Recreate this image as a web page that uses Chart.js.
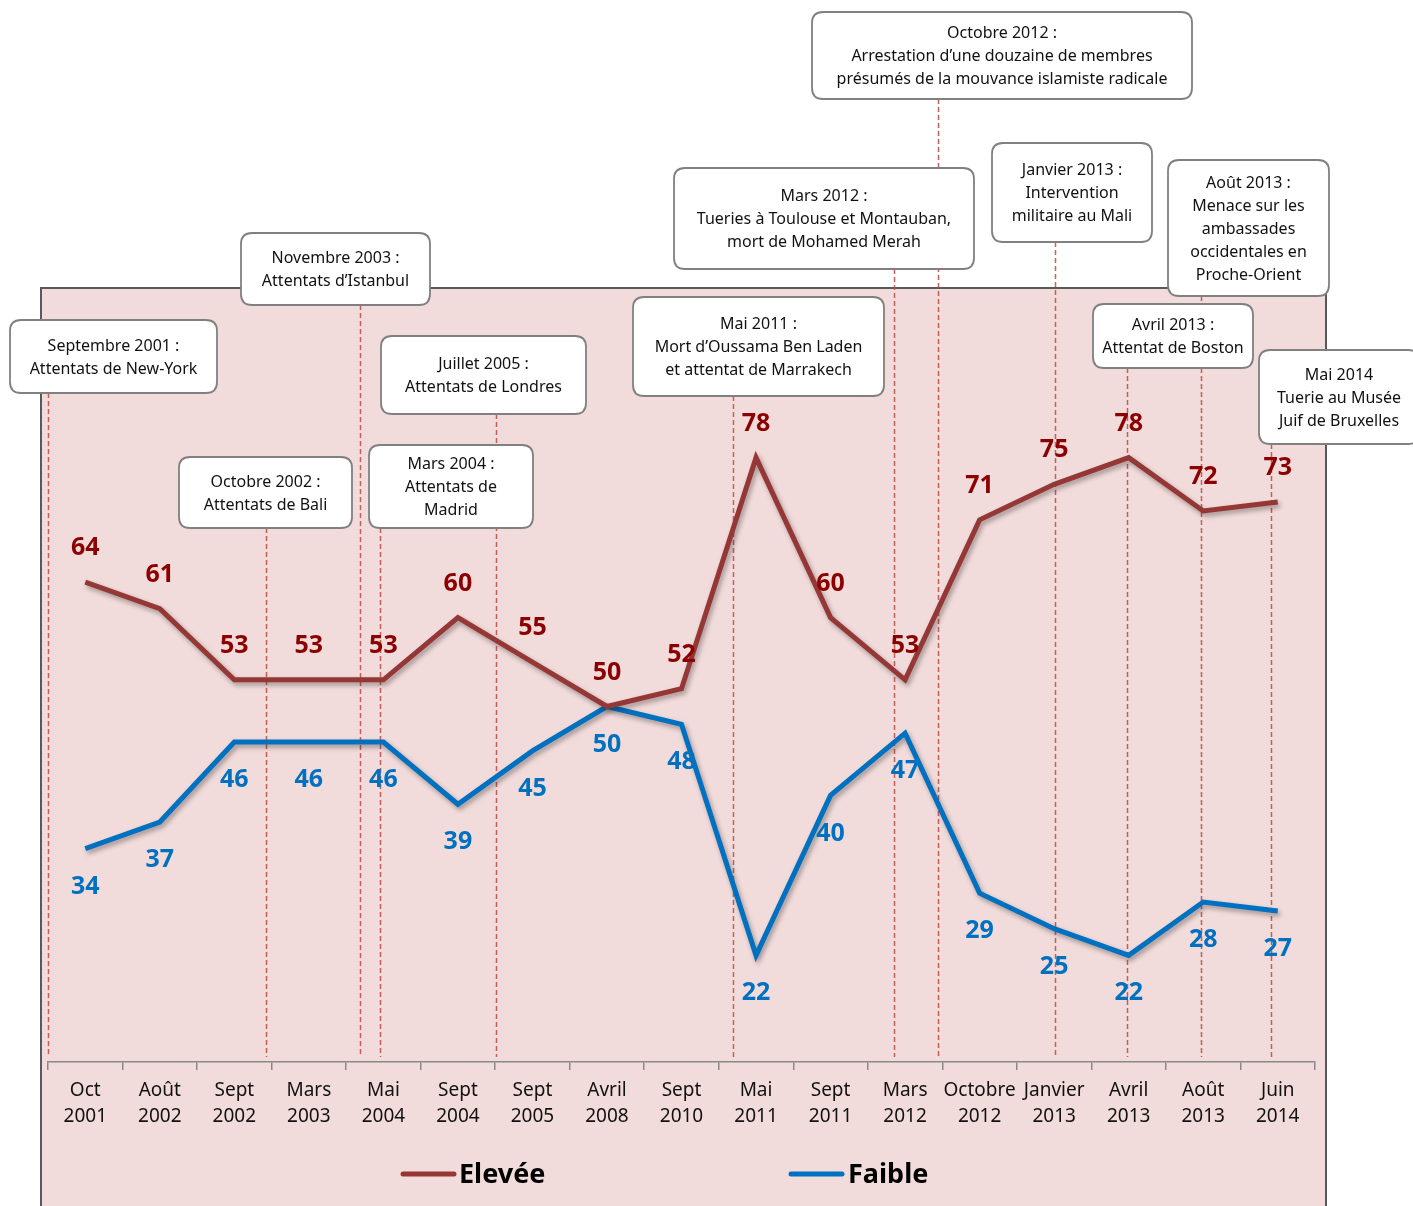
<!DOCTYPE html>
<html>
<head>
<meta charset="utf-8">
<script src="https://cdn.jsdelivr.net/npm/chart.js@4/dist/chart.umd.min.js"></script>
<style>
  html, body { margin: 0; padding: 0; background: #fff; }
  #wrap { width: 1413px; height: 1206px; position: relative; }
</style>
</head>
<body>
<div id="wrap"><canvas id="chart"></canvas></div>
<script>
// --- données ---
const categories = [
    ['Oct', '2001'], ['Août', '2002'], ['Sept', '2002'], ['Mars', '2003'], ['Mai', '2004'],
    ['Sept', '2004'], ['Sept', '2005'], ['Avril', '2008'], ['Sept', '2010'], ['Mai', '2011'],
    ['Sept', '2011'], ['Mars', '2012'], ['Octobre', '2012'], ['Janvier', '2013'], ['Avril', '2013'],
    ['Août', '2013'], ['Juin', '2014']
];
const elevee = [64, 61, 53, 53, 53, 60, 55, 50, 52, 78, 60, 53, 71, 75, 78, 72, 73];
const faible = [34, 37, 46, 46, 46, 39, 45, 50, 48, 22, 40, 47, 29, 25, 22, 28, 27];

// événements : texte + position sur l'axe des catégories (index fractionnaire)
const eventTexts = [
    ['Septembre 2001 :', 'Attentats de New-York'],
    ['Octobre 2002 :', 'Attentats de Bali'],
    ['Novembre 2003 :', 'Attentats d\u2019Istanbul'],
    ['Mars 2004 :', 'Attentats de', 'Madrid'],
    ['Juillet 2005 :', 'Attentats de Londres'],
    ['Mai 2011 :', 'Mort d\u2019Oussama Ben Laden', 'et attentat de Marrakech'],
    ['Mars 2012 :', 'Tueries \u00e0 Toulouse et Montauban,', 'mort de Mohamed Merah'],
    ['Octobre 2012 :', 'Arrestation d\u2019une douzaine de membres', 'pr\u00e9sum\u00e9s de la mouvance islamiste radicale'],
    ['Janvier 2013 :', 'Intervention', 'militaire au Mali'],
    ['Avril 2013 :', 'Attentat de Boston'],
    ['Ao\u00fbt 2013 :', 'Menace sur les', 'ambassades', 'occidentales en', 'Proche-Orient'],
    ['Mai 2014', 'Tuerie au Mus\u00e9e', 'Juif de Bruxelles']
];
const eventPositions = [-0.5, 2.43, 3.69, 3.96, 5.51, 8.69, 10.85, 11.44, 13.01, 13.98, 14.97, 15.91];

// mise en page des encadrés (x, y, largeur, hauteur)
const boxLayout = [
    { x: 10, y: 320, w: 207, h: 73 },
    { x: 179, y: 457, w: 173, h: 71 },
    { x: 241, y: 233, w: 189, h: 72 },
    { x: 369, y: 445, w: 164, h: 83 },
    { x: 381, y: 336, w: 205, h: 78 },
    { x: 633, y: 297, w: 251, h: 99 },
    { x: 674, y: 168, w: 300, h: 101 },
    { x: 812, y: 12, w: 380, h: 87 },
    { x: 992, y: 143, w: 160, h: 99 },
    { x: 1093, y: 304, w: 160, h: 64 },
    { x: 1168, y: 160, w: 161, h: 136 },
    { x: 1259, y: 350, w: 160, h: 94 }
];

const FONT = '"Noto Sans", "DejaVu Sans", sans-serif';
const RED = '#953735';
const BLUE = '#0070C0';

function roundRect(ctx, x, y, w, h, r) {
    ctx.beginPath();
    ctx.moveTo(x + r, y);
    ctx.lineTo(x + w - r, y);
    ctx.quadraticCurveTo(x + w, y, x + w, y + r);
    ctx.lineTo(x + w, y + h - r);
    ctx.quadraticCurveTo(x + w, y + h, x + w - r, y + h);
    ctx.lineTo(x + r, y + h);
    ctx.quadraticCurveTo(x, y + h, x, y + h - r);
    ctx.lineTo(x, y + r);
    ctx.quadraticCurveTo(x, y, x + r, y);
    ctx.closePath();
}

const decorPlugin = {
    id: 'decor',
    beforeDraw(chart) {
        const ctx = chart.ctx;
        ctx.save();
        ctx.fillStyle = '#F2DCDB';
        ctx.fillRect(41, 288, 1285, 920);
        ctx.strokeStyle = '#595959';
        ctx.lineWidth = 2;
        ctx.beginPath();
        ctx.moveTo(41, 1208);
        ctx.lineTo(41, 288);
        ctx.lineTo(1326, 288);
        ctx.lineTo(1326, 1208);
        ctx.stroke();
        ctx.restore();
    },
    beforeDatasetsDraw(chart) {
        const ctx = chart.ctx;
        const xs = chart.scales.x;
        ctx.save();
        ctx.strokeStyle = 'rgba(192, 80, 77, 0.9)';
        ctx.lineWidth = 1.5;
        ctx.setLineDash([5, 3]);
        eventPositions.forEach((pos, i) => {
            const x = Math.round(xs.getPixelForValue(pos)) + 0.5;
            const b = boxLayout[i];
            ctx.beginPath();
            ctx.moveTo(x, b.y + b.h);
            ctx.lineTo(x, chart.chartArea.bottom - 5);
            ctx.stroke();
        });
        ctx.restore();
    },
    beforeDatasetDraw(chart) {
        const ctx = chart.ctx;
        ctx.save();
        ctx.shadowColor = 'rgba(0,0,0,0.35)';
        ctx.shadowBlur = 5;
        ctx.shadowOffsetX = 2;
        ctx.shadowOffsetY = 3;
    },
    afterDatasetDraw(chart) {
        chart.ctx.restore();
    },
    afterDatasetsDraw(chart) {
        const ctx = chart.ctx;
        ctx.save();
        ctx.font = 'bold 25px ' + FONT;
        ctx.textAlign = 'center';
        ctx.textBaseline = 'middle';
        chart.data.datasets.forEach((ds, di) => {
            const meta = chart.getDatasetMeta(di);
            ctx.fillStyle = di === 0 ? '#8B0000' : BLUE;
            meta.data.forEach((pt, i) => {
                const dy = di === 0 ? -34 : 38;
                ctx.fillText(ds.data[i], pt.x, pt.y + dy);
            });
        });

        // légende
        ctx.lineCap = 'round';
        ctx.lineWidth = 5;
        const legendPos = [{ x: 403, text: 459 }, { x: 791, text: 848 }];
        chart.data.datasets.forEach((ds, di) => {
            const lp = legendPos[di];
            ctx.strokeStyle = ds.borderColor;
            ctx.beginPath();
            ctx.moveTo(lp.x, 1174);
            ctx.lineTo(lp.x + 51, 1174);
            ctx.stroke();
            ctx.fillStyle = '#000';
            ctx.font = 'bold 27px ' + FONT;
            ctx.textAlign = 'left';
            ctx.fillText(ds.label, lp.text, 1175);
        });
        ctx.restore();
    },
    afterDraw(chart) {
        const ctx = chart.ctx;
        ctx.save();
        boxLayout.forEach((b, i) => {
            roundRect(ctx, b.x, b.y, b.w, b.h, 11);
            ctx.fillStyle = '#fff';
            ctx.fill();
            ctx.strokeStyle = '#808080';
            ctx.lineWidth = 1.8;
            ctx.stroke();
            const lines = eventTexts[i];
            const lh = 23;
            const cy = b.y + b.h / 2 + 1;
            const y0 = cy - (lines.length - 1) * lh / 2;
            ctx.fillStyle = '#111';
            ctx.font = '16px ' + FONT;
            ctx.textAlign = 'center';
            ctx.textBaseline = 'middle';
            lines.forEach((t, k) => ctx.fillText(t, b.x + b.w / 2, y0 + k * lh));
        });
        ctx.restore();
    }
};

new Chart(document.getElementById('chart'), {
    type: 'line',
    data: {
        labels: categories,
        datasets: [
            { label: 'Elev\u00e9e', data: elevee, borderColor: RED, borderWidth: 5, pointRadius: 0, tension: 0, fill: false },
            { label: 'Faible', data: faible, borderColor: BLUE, borderWidth: 5, pointRadius: 0, tension: 0, fill: false }
        ]
    },
    options: {
        responsive: true,
        maintainAspectRatio: false,
        animation: false,
        layout: { padding: { left: 48, right: 98, top: 351, bottom: 0 } },
        plugins: { legend: { display: false }, tooltip: { enabled: false } },
        scales: {
            x: {
                offset: true,
                afterFit: s => { s.height = 144; },
                grid: { offset: true, drawOnChartArea: false, drawTicks: true, tickLength: 8, color: '#888', lineWidth: 1.5 },
                border: { color: '#888', width: 1.5 },
                ticks: { color: '#111', font: { family: FONT, size: 19, lineHeight: 1.37 }, padding: 8, maxRotation: 0, autoSkip: false }
            },
            y: { display: false, min: 10, max: 90 }
        }
    },
    plugins: [decorPlugin]
});
</script>
</body>
</html>
